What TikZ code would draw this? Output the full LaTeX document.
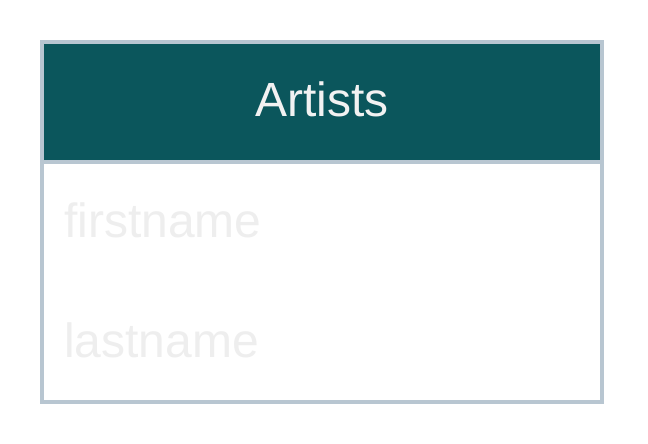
\documentclass[tikz,border=0pt]{standalone}
\usepackage{fontspec}
\setmainfont{Liberation Sans}
\usetikzlibrary{positioning}
\definecolor{headteal}{HTML}{0B565C}
\definecolor{frameblue}{HTML}{B8C6D1}
\definecolor{fieldgray}{HTML}{EEEEEE}
\definecolor{titlewhite}{HTML}{F2F2F2}
\begin{document}
\begin{tikzpicture}[x=1pt,y=-1pt,
  tablebox/.style={draw=frameblue,line width=4pt,inner sep=0pt,outer sep=0pt,minimum width=560pt},
  header/.style={tablebox,fill=headteal,minimum height=120pt,text=titlewhite,font=\fontsize{48}{58}\selectfont},
  tablebody/.style={tablebox,fill=white,minimum height=240pt},
  field/.style={inner sep=0pt,anchor=base west,text=fieldgray,font=\fontsize{48}{58}\selectfont}]
\useasboundingbox (0,0) rectangle (648,444);
% table body first, header on top
\node[tablebody] (body) at (322,282) {};
\node[header, above=0pt of body] (head) {\phantom{Ay}};
\node[anchor=base,text=titlewhite,font=\fontsize{48}{58}\selectfont,inner sep=0pt] (title) at (322,117) {Artists};
\node[field] (first) at (64,237) {firstname};
\node[field] (last) at (64,357) {lastname};
\end{tikzpicture}
\end{document}
